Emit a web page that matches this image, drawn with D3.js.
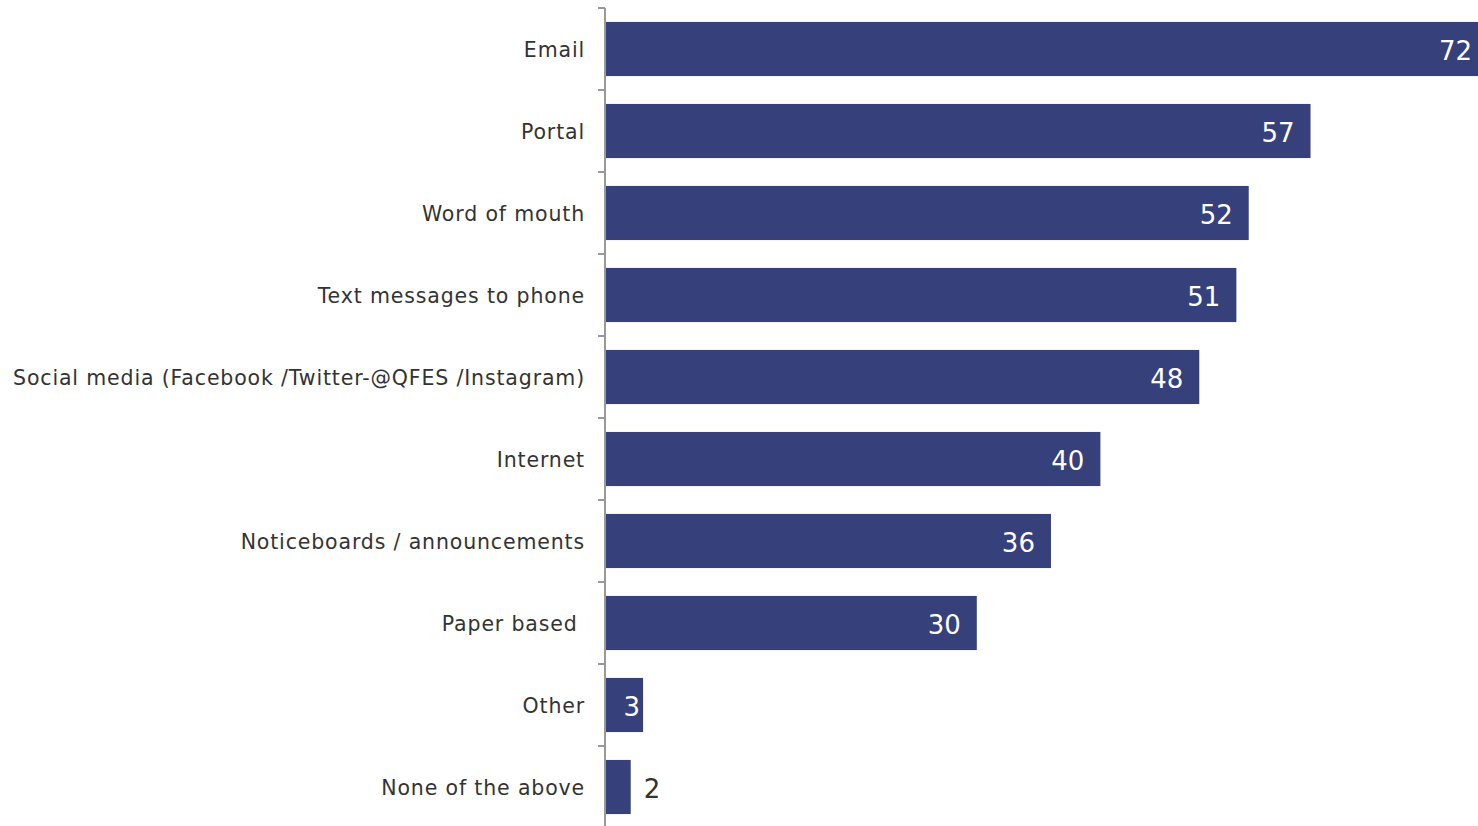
<!DOCTYPE html>
<html>
<head>
<meta charset="utf-8">
<script src="https://cdn.jsdelivr.net/npm/d3@7"></script>
<style>
  html, body { margin: 0; padding: 0; background: #fff; }
  svg { display: block; }
</style>
</head>
<body>
<svg id="chart" width="1478" height="826"></svg>
<script>
const categories = [
  "Email",
  "Portal",
  "Word of mouth",
  "Text messages to phone",
  "Social media (Facebook /Twitter-@QFES /Instagram)",
  "Internet",
  "Noticeboards / announcements",
  "Paper based ",
  "Other",
  "None of the above"
];
const values = [72, 57, 52, 51, 48, 40, 36, 30, 3, 2];

const W = 1478, H = 826;
const axisX = 605;
const svg = d3.select("#chart");

const y = d3.scaleBand()
  .domain(categories)
  .range([8, 828])
  .paddingInner(0.34)
  .paddingOuter(0.17);

const x = d3.scaleLinear()
  .domain([0, 72])
  .range([axisX + 1, axisX + 1 + 72 * 12.36]);

const font = "Verdana, 'DejaVu Sans', sans-serif";

// bars
svg.append("g").selectAll("rect")
  .data(categories)
  .join("rect")
  .attr("x", x(0))
  .attr("y", d => y(d))
  .attr("width", (d, i) => x(values[i]) - x(0))
  .attr("height", y.bandwidth())
  .attr("fill", "#36407a");

// category axis with ticks on band boundaries
const axisG = svg.append("g").attr("stroke", "#999").attr("stroke-width", 2);
axisG.append("line")
  .attr("x1", axisX).attr("x2", axisX)
  .attr("y1", 8).attr("y2", H);
const step = y.step();
d3.range(categories.length + 1).forEach(i => {
  const yy = 8 + i * step;
  axisG.append("line")
    .attr("x1", axisX - 7).attr("x2", axisX)
    .attr("y1", yy).attr("y2", yy);
});

// category labels
svg.append("g").selectAll("text")
  .data(categories)
  .join("text")
  .attr("x", axisX - 20)
  .attr("y", d => y(d) + y.bandwidth() / 2)
  .attr("dy", "0.38em")
  .attr("text-anchor", "end")
  .attr("font-family", font)
  .attr("font-size", 20.5)
  .attr("letter-spacing", 0.85)
  .attr("fill", "#333")
  .style("white-space", "pre")
  .text(d => d);

// value labels: inside the bar in white, outside in grey when the bar is tiny
svg.append("g").selectAll("text")
  .data(categories)
  .join("text")
  .each(function (d, i) {
    const v = values[i];
    const end = x(v);
    const w = end - x(0);
    const inside = w > 30;
    let lx;
    if (!inside) lx = end + 13;
    else if (w < 60) lx = end - 3;
    else lx = Math.min(end - 16, W - 6);
    d3.select(this)
      .attr("x", lx)
      .attr("y", y(d) + y.bandwidth() / 2)
      .attr("dy", "0.42em")
      .attr("text-anchor", inside ? "end" : "start")
      .attr("fill", inside ? "#fff" : "#333")
      .text(v);
  })
  .attr("font-family", font)
  .attr("font-size", 26);
</script>
</body>
</html>
